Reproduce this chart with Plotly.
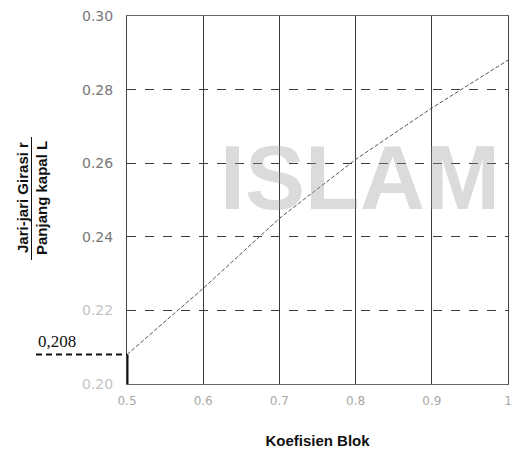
import plotly.graph_objects as go

# Data
block_coef = [0.5, 0.6, 0.7, 0.8, 0.9, 1.0]
gyration_ratio = [0.208, 0.226, 0.245, 0.261, 0.275, 0.288]

x_tick_vals = [0.5, 0.6, 0.7, 0.8, 0.9, 1.0]
x_tick_text = ["0.5", "0.6", "0.7", "0.8", "0.9", "1"]
y_tick_vals = [0.20, 0.22, 0.24, 0.26, 0.28, 0.30]
y_tick_text = ["0.20", "0.22", "0.24", "0.26", "0.28", "0.30"]
y_tick_colors = ["#c4c4c4", "#c4c4c4", "#777777", "#777777", "#777777", "#777777"]

marked_x = 0.5
marked_y = 0.208
marked_label = "0,208"

W, H = 512, 449
L, R, T, B = 127, 4, 16, 65

fig = go.Figure()

fig.add_trace(go.Scatter(
    x=block_coef, y=gyration_ratio, mode="lines",
    line=dict(color="#555555", width=1, dash="4px,2px"),
    showlegend=False, hoverinfo="skip", cliponaxis=False,
))

font_ticks = "DejaVu Sans"

fig.update_layout(
    width=W, height=H,
    margin=dict(l=L, r=R, t=T, b=B, autoexpand=False),
    paper_bgcolor="white", plot_bgcolor="white",
    xaxis=dict(
        range=[0.5, 1.0], tickmode="array", tickvals=x_tick_vals, ticktext=x_tick_text,
        showgrid=True, gridcolor="#3a3a3a", gridwidth=1,
        showline=True, mirror=True, linecolor="#666666", linewidth=1,
        zeroline=False, ticks="",
        ticklabelstandoff=6, ticklabeloverflow="allow",
        tickfont=dict(family=font_ticks, size=12, color="#a8a8a8"),
        title=dict(text="<b>Koefisien Blok</b>", font=dict(family="Liberation Sans", size=15, color="#111111"),
                   standoff=30),
    ),
    yaxis=dict(
        range=[0.20, 0.30], tickmode="array", tickvals=y_tick_vals,
        ticktext=[f'<span style="color:{c}">{t}</span>' for t, c in zip(y_tick_text, y_tick_colors)],
        showgrid=True, gridcolor="#3a3a3a", gridwidth=1, griddash="dash",
        showline=True, mirror="all", linecolor="#444444", linewidth=1,
        zeroline=False, ticks="", ticklen=0, ticklabelstandoff=10,
        tickfont=dict(family=font_ticks, size=14, color="#777777"),
    ),
)

pw = W - L - R
ph = H - T - B
def px_x(p):
    return (p - L) / pw
def px_y(p):
    return (H - B - p) / ph

# Watermark
fig.add_annotation(
    text="<b>ISLAM</b>", xref="paper", yref="paper", x=px_x(360), y=px_y(178),
    xanchor="center", yanchor="middle",
    showarrow=False, font=dict(family="Liberation Sans", size=90, color="#9a9a9a"),
    opacity=0.35,
)

# Y-axis title as a fraction
fig.add_annotation(
    text="<b>Jari-jari Girasi r</b>", xref="paper", yref="paper", x=px_x(22), y=px_y(198),
    xanchor="center", yanchor="middle", textangle=-90, showarrow=False,
    font=dict(family="Liberation Sans", size=15, color="#111111"),
)
fig.add_annotation(
    text="<b>Panjang kapal L</b>", xref="paper", yref="paper", x=px_x(41), y=px_y(198),
    xanchor="center", yanchor="middle", textangle=-90, showarrow=False,
    font=dict(family="Liberation Sans", size=15, color="#111111"),
)
fig.add_shape(type="line", xref="paper", yref="paper",
              x0=px_x(31.5), x1=px_x(31.5), y0=px_y(137), y1=px_y(260),
              line=dict(color="#111111", width=1))

# Marked value 0,208
fig.add_shape(type="line", xref="paper", yref="y",
              x0=px_x(36), x1=0, y0=marked_y, y1=marked_y,
              line=dict(color="#111111", width=2, dash="6px,4px"))
fig.add_shape(type="line", xref="x", yref="y",
              x0=marked_x, x1=marked_x, y0=0.2, y1=marked_y,
              line=dict(color="#111111", width=3))
fig.add_annotation(
    text=marked_label, xref="paper", yref="y", x=px_x(36), y=marked_y,
    xanchor="left", yanchor="bottom", yshift=2, showarrow=False,
    font=dict(family="Liberation Serif", size=17, color="#111111"),
)

fig.write_html("out.html", config={"displayModeBar": False})

# remove the default page margin so the figure sits at the window's top-left
with open("out.html", encoding="utf-8") as f:
    html = f.read()
html = html.replace("<body>", '<body style="margin:0;overflow:hidden">', 1)
with open("out.html", "w", encoding="utf-8") as f:
    f.write(html)
